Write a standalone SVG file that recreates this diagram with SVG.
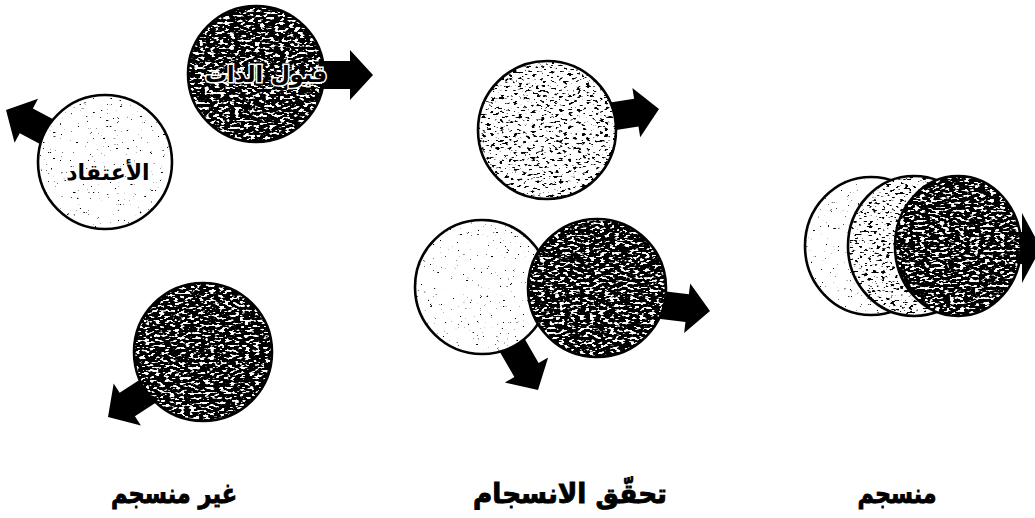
<svg xmlns="http://www.w3.org/2000/svg" xmlns:xlink="http://www.w3.org/1999/xlink" width="1035" height="518" viewBox="0 0 1035 518">
<style>
.bg{fill:#fff}
.ink{fill:#000}
.rim{fill:none;stroke:#000;stroke-width:2.6}
.arr{fill:#000}
.lbl{font-family:"DejaVu Sans","Noto Sans",sans-serif;font-weight:bold;fill:#000;stroke:#000;stroke-width:0.9;text-anchor:middle}
.inner{font-family:"DejaVu Sans","Noto Sans",sans-serif;font-weight:bold;fill:#000;text-anchor:middle;stroke:#fff;stroke-width:3;paint-order:stroke}
</style>
<defs>
<filter id="fLight" x="0" y="0" width="100%" height="100%" color-interpolation-filters="sRGB">
<feTurbulence type="fractalNoise" baseFrequency="0.3 0.5" numOctaves="2" seed="4" result="n"/>
<feColorMatrix in="n" type="matrix" values="0 0 0 0 0  0 0 0 0 0  0 0 0 0 0  14 0 0 0 -10.1" result="m"/>
<feComposite in="m" in2="SourceAlpha" operator="in"/>
</filter>
<filter id="fMed" x="0" y="0" width="100%" height="100%" color-interpolation-filters="sRGB">
<feTurbulence type="fractalNoise" baseFrequency="0.22 0.42" numOctaves="2" seed="7" result="n"/>
<feColorMatrix in="n" type="matrix" values="0 0 0 0 0  0 0 0 0 0  0 0 0 0 0  14 0 0 0 -8.3" result="m"/>
<feComposite in="m" in2="SourceAlpha" operator="in"/>
</filter>
<filter id="fDark" x="0" y="0" width="100%" height="100%" color-interpolation-filters="sRGB">
<feTurbulence type="fractalNoise" baseFrequency="0.2 0.4" numOctaves="2" seed="11" result="n"/>
<feColorMatrix in="n" type="matrix" values="0 0 0 0 1  0 0 0 0 1  0 0 0 0 1  13 0 0 0 -7.0" result="m"/>
<feComposite in="m" in2="SourceAlpha" operator="in"/>
</filter>
<path id="arrow" d="M0,0 L-23,-25 L-23,-14 L-100,-14 L-100,14 L-23,14 L-23,25 Z"/>
<path id="arrowBig" d="M0,0 L-19,-35 L-19,-16 L-100,-16 L-100,16 L-19,16 L-19,35 Z"/>
</defs>
<rect width="1035" height="518" fill="#fff"/>

<g id="arrows" class="arr">
<use xlink:href="#arrow" href="#arrow" transform="translate(6,110) rotate(-152)"/>
<use xlink:href="#arrow" href="#arrow" transform="translate(373,75)"/>
<use xlink:href="#arrow" href="#arrow" transform="translate(108,417) rotate(147)"/>
<use xlink:href="#arrow" href="#arrow" transform="translate(659,109) rotate(-9)"/>
<use xlink:href="#arrow" href="#arrow" transform="translate(710,311) rotate(7)"/>
<use xlink:href="#arrow" href="#arrow" transform="translate(538,390) rotate(60)"/>
<use xlink:href="#arrowBig" href="#arrowBig" transform="translate(1041,248)"/>
</g>

<g id="belief">
<circle class="bg" cx="105" cy="162" r="67"/>
<circle class="ink" cx="105" cy="162" r="67" filter="url(#fLight)"/>
<circle class="rim" cx="105" cy="162" r="67"/>
<text class="inner" x="108" y="180" font-size="22">الأعتقاد</text>
</g>

<g id="self-acceptance">
<circle class="ink" cx="256" cy="74" r="68"/>
<circle class="ink" cx="256" cy="74" r="68" filter="url(#fDark)"/>
<circle class="rim" cx="256" cy="74" r="68"/>
<text class="inner" x="266" y="82" font-size="22">قبول الذات</text>
</g>

<g id="left-dark">
<circle class="ink" cx="203" cy="352" r="69"/>
<circle class="ink" cx="203" cy="352" r="69" filter="url(#fDark)"/>
<circle class="rim" cx="203" cy="352" r="69"/>
</g>

<g id="mid-medium">
<circle class="bg" cx="547" cy="130" r="69"/>
<circle class="ink" cx="547" cy="130" r="69" filter="url(#fMed)"/>
<circle class="rim" cx="547" cy="130" r="69"/>
</g>

<g id="mid-light">
<circle class="bg" cx="482" cy="287" r="67"/>
<circle class="ink" cx="482" cy="287" r="67" filter="url(#fLight)"/>
<circle class="rim" cx="482" cy="287" r="67"/>
</g>

<g id="mid-dark">
<circle class="ink" cx="597" cy="288" r="69"/>
<circle class="ink" cx="597" cy="288" r="69" filter="url(#fDark)"/>
<circle class="rim" cx="597" cy="288" r="69"/>
</g>

<g id="right-light">
<ellipse class="bg" cx="871" cy="246" rx="66" ry="69"/>
<ellipse class="ink" cx="871" cy="246" rx="66" ry="69" filter="url(#fLight)"/>
<ellipse class="rim" cx="871" cy="246" rx="66" ry="69"/>
</g>

<g id="right-medium">
<ellipse class="bg" cx="914" cy="246" rx="66" ry="70"/>
<ellipse class="ink" cx="914" cy="246" rx="66" ry="70" filter="url(#fMed)"/>
<ellipse class="rim" cx="914" cy="246" rx="66" ry="70"/>
</g>

<g id="right-dark">
<ellipse class="ink" cx="958" cy="246" rx="63" ry="70"/>
<ellipse class="ink" cx="958" cy="246" rx="63" ry="70" filter="url(#fDark)"/>
<ellipse class="rim" cx="958" cy="246" rx="63" ry="70"/>
</g>

<g id="labels">
<text class="lbl" x="174" y="503" font-size="27" textLength="126" lengthAdjust="spacingAndGlyphs">غير منسجم</text>
<text class="lbl" x="570" y="503" font-size="27" textLength="194" lengthAdjust="spacingAndGlyphs">تحقّق الانسجام</text>
<text class="lbl" x="897" y="503" font-size="27" textLength="79" lengthAdjust="spacingAndGlyphs">منسجم</text>
</g>
</svg>
